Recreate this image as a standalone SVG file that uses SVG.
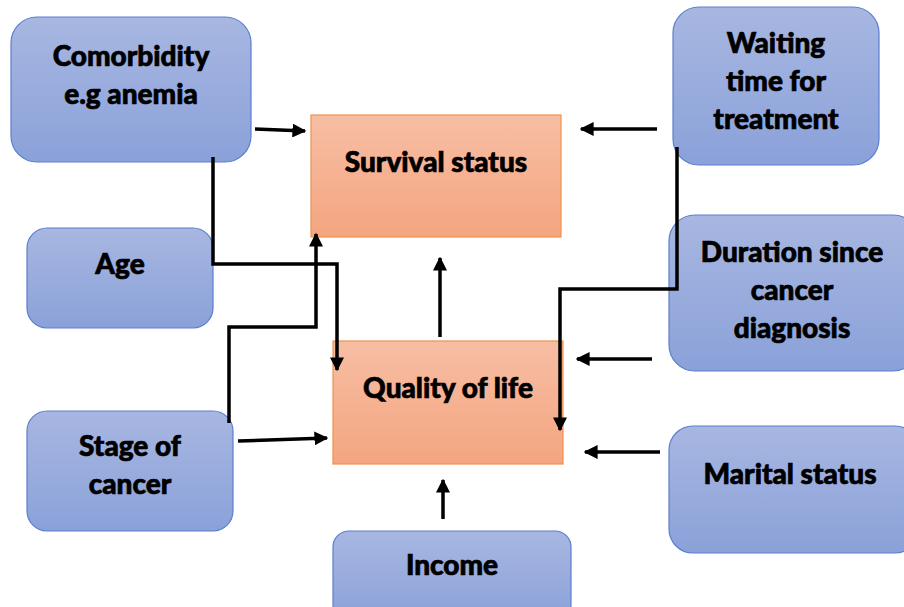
<svg xmlns="http://www.w3.org/2000/svg" width="904" height="607" viewBox="0 0 904 607">
<defs>
<linearGradient id="gb" x1="0" y1="0" x2="0" y2="1"><stop offset="0" stop-color="#a8b7e1"/><stop offset="1" stop-color="#8aa1d9"/></linearGradient>
<linearGradient id="go" x1="0" y1="0" x2="0" y2="1"><stop offset="0" stop-color="#f7bea4"/><stop offset="1" stop-color="#f4a580"/></linearGradient>
<marker id="ah" viewBox="0 0 10 10" refX="9" refY="5" markerWidth="4" markerHeight="4" markerUnits="strokeWidth" orient="auto"><path d="M0,0 L10,5 L0,10 z" fill="#000"/></marker>
<style>
.b{fill:url(#gb);stroke:#5a7fd0;stroke-width:1.2}
.o{fill:url(#go);stroke:#f0914a;stroke-width:1.2}
.t{font-family:Lato,"DejaVu Sans",sans-serif;font-weight:900;font-size:28px;fill:#000;stroke:#000;stroke-width:0.7;text-anchor:middle}
.c{fill:none;stroke:#000;stroke-width:3.5;marker-end:url(#ah)}
</style>
</defs>
<g id="comorbidity"><rect class="b" x="11" y="17" width="240" height="145" rx="26"/><text class="t" x="131" y="66">Comorbidity</text><text class="t" x="131" y="104">e.g anemia</text></g>
<g id="age"><rect class="b" x="27" y="228" width="186" height="100" rx="20"/><text class="t" x="120" y="274">Age</text></g>
<g id="stage"><rect class="b" x="27" y="411" width="206" height="120" rx="20"/><text class="t" x="130" y="456">Stage of</text><text class="t" x="130" y="494">cancer</text></g>
<g id="income"><rect class="b" x="333" y="531" width="238" height="90" rx="16"/><text class="t" x="452" y="575">Income</text></g>
<g id="survival"><rect class="o" x="311" y="115" width="250" height="122"/><text class="t" x="436" y="172">Survival status</text></g>
<g id="qol"><rect class="o" x="333" y="341" width="230" height="123"/><text class="t" x="448" y="398">Quality of life</text></g>
<g id="waiting"><rect class="b" x="673" y="7" width="206" height="158" rx="26"/><text class="t" x="776" y="53">Waiting</text><text class="t" x="776" y="91">time for</text><text class="t" x="776" y="129">treatment</text></g>
<g id="duration"><rect class="b" x="669" y="215" width="250" height="156" rx="26"/><text class="t" x="792" y="262">Duration since</text><text class="t" x="792" y="300">cancer</text><text class="t" x="792" y="338">diagnosis</text></g>
<g id="marital"><rect class="b" x="669" y="426" width="250" height="127" rx="24"/><text class="t" x="790" y="484">Marital status</text></g>
<g id="connectors">
<path class="c" d="M255,129 L305,131"/>
<path class="c" d="M657,129 L581,129"/>
<path class="c" d="M213,157 V264 H337 V370"/>
<path class="c" d="M229,423 V327 H316 V234"/>
<path class="c" d="M440,337 V258"/>
<path class="c" d="M677,147 V289 H560 V430"/>
<path class="c" d="M652,359 H577"/>
<path class="c" d="M660,452 H585"/>
<path class="c" d="M238,441 L327,438"/>
<path class="c" d="M443,519 V480"/>
</g>
</svg>
